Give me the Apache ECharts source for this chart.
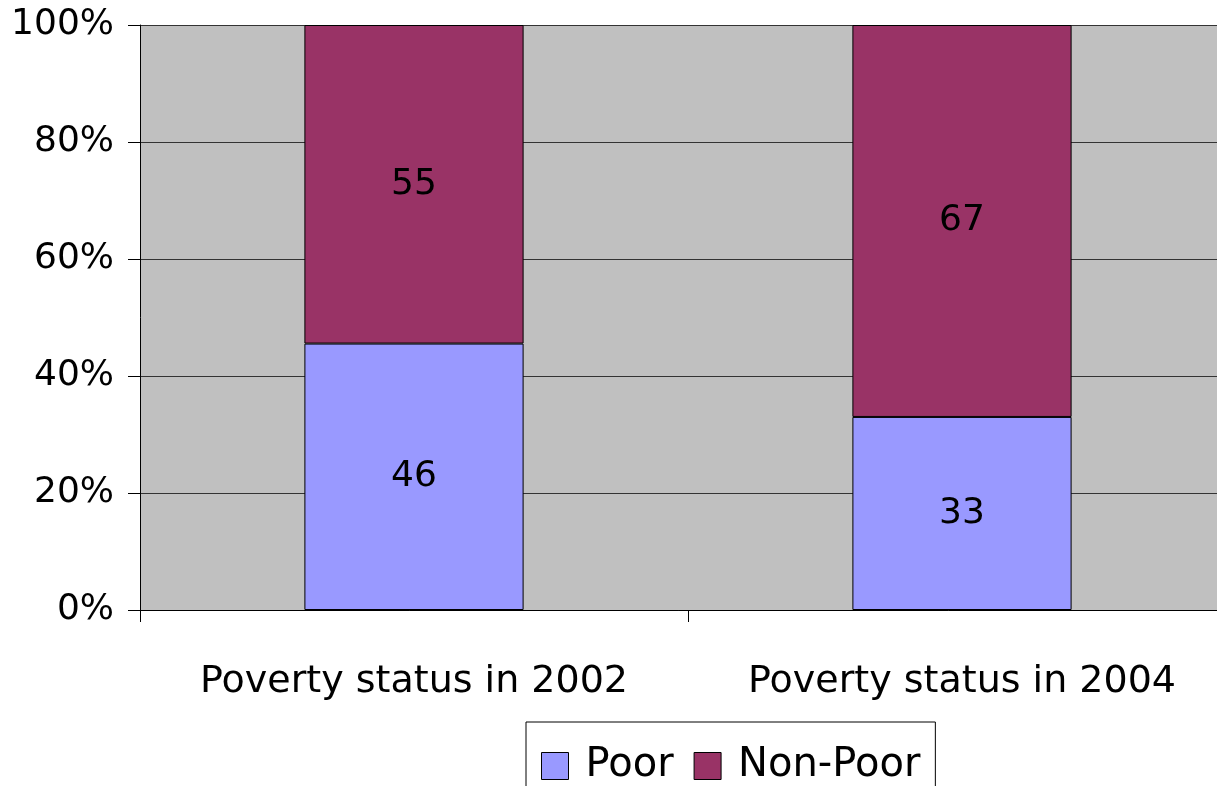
<!DOCTYPE html>
<html>
<head>
<meta charset="utf-8">
<script src="https://cdn.jsdelivr.net/npm/echarts@6/dist/echarts.min.js"></script>
<style>
html,body{margin:0;padding:0;background:#fff;}
#c{width:1217px;height:786px;}
</style>
</head>
<body>
<div id="c"></div>
<script>
const categories = ['Poverty status in 2002', 'Poverty status in 2004'];
const poor = [46, 33];
const nonPoor = [55, 67];
const yTicks = ['0%', '20%', '40%', '60%', '80%', '100%'];

const totals = categories.map((_, i) => poor[i] + nonPoor[i]);
const pct = (arr) => arr.map((v, i) => v / totals[i] * 100);

const font = 'DejaVu Sans, Liberation Sans, Arial, sans-serif';
const chart = echarts.init(document.getElementById('c'), null, {renderer: 'canvas'});
chart.setOption({
  animation: false,
  backgroundColor: '#ffffff',
  grid: {left: 140, top: 25, width: 1096, height: 585, outerBoundsMode: 'none', containLabel: false,
    backgroundColor: '#C0C0C0', show: true, borderWidth: 0},
  legend: {
    left: 526, top: 722,
    data: ['Poor', 'Non-Poor'],
    backgroundColor: '#ffffff',
    borderColor: '#000000', borderWidth: 1,
    padding: [24, 15, 40, 15],
    itemWidth: 27, itemHeight: 27, itemGap: 20,
    icon: 'rect',
    itemStyle: {borderColor: '#000', borderWidth: 1},
    textStyle: {fontFamily: font, fontSize: 40, color: '#000', padding: [0, 0, 0, 12], lineHeight: 29}
  },
  xAxis: {
    type: 'category', data: categories,
    axisLine: {show: true, lineStyle: {color: '#000', width: 1}},
    axisTick: {show: true, interval: 0, length: 12, lineStyle: {color: '#000'}},
    axisLabel: {interval: 0, hideOverlap: false, fontFamily: font, fontSize: 38, color: '#000', margin: 53},
    splitLine: {show: false}
  },
  yAxis: {
    type: 'value', min: 0, max: 100, interval: 20,
    axisLine: {show: true, lineStyle: {color: '#000', width: 1}},
    axisTick: {show: true, length: 12, lineStyle: {color: '#000'}},
    axisLabel: {fontFamily: font, fontSize: 36, color: '#000', margin: 26,
      formatter: (v) => yTicks[Math.round(v / 20)]},
    splitLine: {show: true, lineStyle: {color: '#333', width: 1}}
  },
  series: [
    {
      name: 'Poor', type: 'bar', stack: 'total', barWidth: '40%',
      data: pct(poor),
      itemStyle: {color: '#9999FF', borderColor: '#000', borderWidth: 1},
      label: {show: true, position: 'inside', fontFamily: font, fontSize: 36, color: '#000',
        formatter: (p) => String(poor[p.dataIndex])}
    },
    {
      name: 'Non-Poor', type: 'bar', stack: 'total', barWidth: '40%',
      data: pct(nonPoor),
      itemStyle: {color: '#993366', borderColor: '#000', borderWidth: 1},
      label: {show: true, position: 'inside', fontFamily: font, fontSize: 36, color: '#000',
        formatter: (p) => String(nonPoor[p.dataIndex])}
    }
  ]
});
</script>
</body>
</html>
